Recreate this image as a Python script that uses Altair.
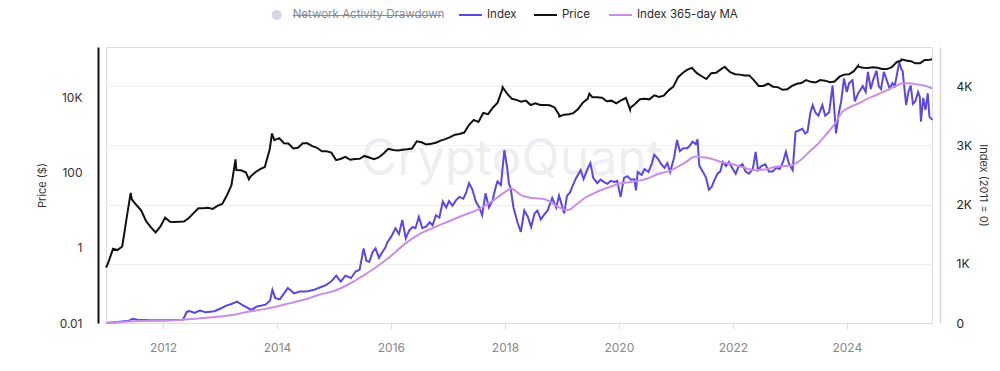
import altair as alt
import pandas as pd
import numpy as np

# ---------------- data ----------------
ND = "Network Activity Drawdown"
series_names = [ND, "Index", "Price", "Index 365-day MA"]
series_colors = ["#d6d6e0", "#5a48e2", "#111111", "#cc8ee4"]

# BTC price, mid-month, Jan 2011 .. Jun 2025
price_values = [
    0.4, 0.95, 0.88, 1.1, 7.0, 20, 14, 10, 5.2, 3.6, 2.6, 3.7,                      # 2011
    6.5, 5.0, 4.9, 5.0, 5.1, 6.3, 8.5, 11.5, 11.5, 11.8, 11.0, 13.3,                # 2012
    15, 26, 47, 120, 118, 105, 80, 105, 127, 145, 420, 750,                          # 2013
    850, 620, 610, 450, 470, 620, 620, 520, 470, 380, 380, 350,                      # 2014
    220, 240, 270, 225, 237, 240, 285, 260, 235, 260, 330, 440,                      # 2015
    410, 400, 415, 430, 450, 700, 660, 575, 605, 640, 730, 800,                      # 2016
    900, 1050, 1100, 1200, 1900, 2600, 2300, 4000, 3700, 5500, 7500, 17000,          # 2017
    13000, 9500, 8900, 8000, 8500, 6500, 7200, 6500, 6500, 6400, 5600, 3500,         # 2018
    3600, 3700, 3950, 5100, 7500, 9500, 10500, 10500, 10200, 8200, 8500, 7200,       # 2019
    8600, 10000, 5500, 7000, 9300, 9500, 9200, 11800, 10700, 11500, 16000, 20000,    # 2020
    36000, 47000, 57000, 62000, 46000, 38000, 32000, 46000, 47000, 58000, 64000, 49000,  # 2021
    43000, 42000, 40000, 40000, 30000, 21000, 21000, 24000, 20000, 19500, 16500, 17000,  # 2022
    21000, 24000, 25000, 30000, 27000, 26000, 30000, 29000, 26500, 27500, 37000, 42000,  # 2023
    43000, 52000, 68000, 64000, 63000, 66000, 64000, 59000, 59000, 66000, 90000, 100000, # 2024
    100000, 96000, 84000, 85000, 103000, 105000,                                         # 2025
]
price_extra_dates = ["2011-01-01", "2011-06-08", "2013-04-10", "2013-07-05", "2013-11-30",
                     "2017-12-17", "2018-12-15", "2019-06-26", "2020-03-13", "2021-04-14",
                     "2021-11-10", "2024-03-14", "2024-12-17", "2025-06-30"]
price_extra_values = [0.3, 29.6, 230, 68, 1130, 19500, 3200, 13000, 4900, 64000,
                      68000, 73000, 107000, 108000]

# Index (2011 = 0), decimal years
index_t = [
    2011.0, 2011.2, 2011.4, 2011.47, 2011.55, 2011.8, 2012.0, 2012.2, 2012.35, 2012.42,
    2012.47, 2012.55, 2012.65, 2012.75, 2012.9, 2013.0, 2013.1, 2013.2, 2013.3, 2013.4,
    2013.55, 2013.65, 2013.8, 2013.88, 2013.92, 2013.97, 2014.05, 2014.19, 2014.3, 2014.4,
    2014.51, 2014.65, 2014.75, 2014.86, 2014.95, 2015.04, 2015.12, 2015.2, 2015.3, 2015.38,
    2015.45, 2015.52, 2015.57, 2015.62, 2015.68, 2015.73, 2015.79, 2015.85, 2015.9, 2015.94,
    2016.0, 2016.08, 2016.14, 2016.2, 2016.26, 2016.32, 2016.38, 2016.43, 2016.49, 2016.55,
    2016.62, 2016.68, 2016.73, 2016.79, 2016.85, 2016.91, 2016.97, 2017.02, 2017.08, 2017.14,
    2017.2, 2017.27, 2017.32, 2017.37, 2017.43, 2017.49, 2017.55, 2017.6, 2017.66, 2017.72,
    2017.78, 2017.84, 2017.87, 2017.93, 2017.99, 2018.04, 2018.07, 2018.1, 2018.15, 2018.22,
    2018.28, 2018.34, 2018.4, 2018.46, 2018.52, 2018.57, 2018.63, 2018.69, 2018.75, 2018.83,
    2018.9, 2018.95, 2019.04, 2019.09, 2019.14, 2019.18, 2019.25, 2019.33, 2019.38, 2019.45,
    2019.5, 2019.55, 2019.62, 2019.68, 2019.74, 2019.8, 2019.86, 2019.92, 2019.97, 2020.03,
    2020.09, 2020.15, 2020.21, 2020.27, 2020.3, 2020.33, 2020.4, 2020.45, 2020.52, 2020.58,
    2020.62, 2020.68, 2020.73, 2020.8, 2020.85, 2020.9, 2020.97, 2021.02, 2021.07, 2021.13,
    2021.2, 2021.25, 2021.29, 2021.35, 2021.38, 2021.41, 2021.47, 2021.53, 2021.58, 2021.63,
    2021.67, 2021.73, 2021.78, 2021.82, 2021.88, 2021.93, 2022.0, 2022.05, 2022.1, 2022.17,
    2022.22, 2022.28, 2022.35, 2022.4, 2022.44, 2022.5, 2022.57, 2022.63, 2022.7, 2022.76,
    2022.82, 2022.88, 2022.93, 2022.98, 2023.05, 2023.1, 2023.16, 2023.22, 2023.27, 2023.31,
    2023.36, 2023.4, 2023.45, 2023.5, 2023.57, 2023.62, 2023.69, 2023.75, 2023.81, 2023.86,
    2023.9, 2023.95, 2024.0, 2024.04, 2024.1, 2024.14, 2024.2, 2024.28, 2024.33, 2024.37,
    2024.42, 2024.46, 2024.52, 2024.56, 2024.6, 2024.65, 2024.7, 2024.75, 2024.8, 2024.84,
    2024.88, 2024.92, 2024.95, 2024.98, 2025.04, 2025.08, 2025.12, 2025.16, 2025.2, 2025.25,
    2025.28, 2025.3, 2025.34, 2025.38, 2025.42, 2025.45, 2025.5,
]
index_v = [
    0, 15, 40, 70, 55, 45, 45, 50, 55, 190,
    200, 170, 210, 180, 200, 240, 290, 320, 360, 300,
    220, 280, 310, 380, 560, 420, 400, 590, 500, 530,
    530, 560, 600, 640, 700, 800, 700, 800, 760, 870,
    900, 1260, 1050, 1030, 1200, 1260, 1100, 1200, 1270, 1370,
    1450, 1600, 1500, 1740, 1430, 1560, 1620, 1600, 1790, 1600,
    1630, 1700, 1650, 1820, 1780, 2050, 1950, 2060, 1980, 2070,
    2130, 2100, 2200, 2360, 2250, 2050, 1950, 1820, 2190, 1950,
    2060, 2300, 2390, 2330, 2920, 2620, 2350, 2280, 1950, 1700,
    1540, 1900, 1800, 1620, 1850, 1900, 1750, 1830, 1900, 2110,
    1950, 2150, 1850, 2150, 2200, 2300, 2450, 2580, 2430, 2600,
    2700, 2450, 2360, 2420, 2380, 2350, 2400, 2380, 2400, 2130,
    2450, 2480, 2420, 2430, 2240, 2550, 2500, 2600, 2550, 2700,
    2840, 2780, 2700, 2620, 2700, 2550, 2800, 3090, 2900, 2950,
    2950, 3000, 3060, 3020, 3100, 2660, 2560, 2450, 2250, 2300,
    2400, 2520, 2560, 2720, 2650, 2720, 2600, 2520, 2640, 2680,
    2560, 2520, 2600, 2890, 2580, 2650, 2680, 2560, 2560, 2620,
    2600, 2720, 2890, 2700, 2580, 3230, 3250, 3280, 3200, 3230,
    3550, 3680, 3550, 3500, 3680, 3500, 3560, 4010, 3200, 3550,
    3740, 4130, 3900, 4050, 4100, 3740, 3880, 4000, 3900, 4240,
    3950, 4100, 4260, 4000, 3950, 4240, 4100, 3960, 4050, 4000,
    4200, 4410, 4300, 4250, 3680, 3900, 4010, 3700, 3740, 3900,
    3820, 3400, 3800, 3600, 3880, 3480, 3430,
]

# Index 365-day moving average
ma_t = [
    2011.0, 2011.5, 2012.0, 2012.3, 2012.6, 2013.0, 2013.25, 2013.5, 2013.75, 2014.0,
    2014.25, 2014.5, 2014.75, 2015.0, 2015.25, 2015.5, 2015.75, 2016.0, 2016.25, 2016.5,
    2016.75, 2017.0, 2017.25, 2017.5, 2017.75, 2018.0, 2018.1, 2018.3, 2018.5, 2018.7,
    2018.85, 2019.0, 2019.1, 2019.25, 2019.4, 2019.56, 2019.7, 2019.85, 2020.0, 2020.31,
    2020.5, 2020.7, 2020.85, 2021.0, 2021.14, 2021.35, 2021.45, 2021.55, 2021.7, 2021.78,
    2022.0, 2022.2, 2022.4, 2022.6, 2022.75, 2022.9, 2023.04, 2023.2, 2023.34, 2023.5,
    2023.63, 2023.8, 2023.92, 2024.05, 2024.21, 2024.35, 2024.52, 2024.7, 2024.84, 2024.96,
    2025.1, 2025.21, 2025.35, 2025.5,
]
ma_v = [
    0, 30, 40, 50, 75, 110, 140, 190, 230, 280,
    340, 400, 480, 540, 650, 790, 950, 1130, 1340, 1500,
    1610, 1710, 1810, 1900, 2040, 2210, 2270, 2150, 2110, 2090,
    2010, 1930, 1905, 2000, 2110, 2190, 2250, 2300, 2350, 2395,
    2440, 2520, 2555, 2620, 2695, 2810, 2800, 2790, 2750, 2720,
    2680, 2620, 2580, 2600, 2640, 2650, 2665, 2760, 2890, 3030,
    3175, 3380, 3565, 3640, 3710, 3780, 3850, 3930, 3990, 4045,
    4050, 4030, 4010, 3960,
]

# ---------------- frames ----------------
def to_date(t):
    return pd.Timestamp("2011-01-01") + pd.to_timedelta((np.array(t) - 2011.0) * 365.25, unit="D")

price_dates = pd.date_range("2011-01-01", periods=len(price_values), freq="MS") + pd.Timedelta(days=14)
price_df = pd.concat([
    pd.DataFrame({"date": price_dates, "value": price_values}),
    pd.DataFrame({"date": pd.to_datetime(price_extra_dates), "value": price_extra_values}),
]).sort_values("date")
price_df["series"] = "Price"

index_df = pd.DataFrame({"date": to_date(index_t), "value": index_v, "series": "Index"})
ma_df = pd.DataFrame({"date": to_date(ma_t), "value": ma_v, "series": "Index 365-day MA"})

# ---------------- encodings ----------------
FONT = "Inter"

color = alt.Color("series:N", scale=alt.Scale(domain=series_names, range=series_colors), legend=None)

x_enc = alt.X(
    "date:T",
    scale=alt.Scale(domain=[alt.DateTime(year=2011, month=1, date=1),
                            alt.DateTime(year=2025, month=6, date=30)], nice=False),
    axis=alt.Axis(
        values=[alt.DateTime(year=y, month=1, date=1) for y in range(2012, 2025, 2)],
        format="%Y", grid=False, title=None,
        domainColor="#dcdce4", domainWidth=1, tickColor="#dcdce4", tickSize=6,
        labelColor="#888888", labelFontSize=12, labelFont=FONT, labelPadding=13,
    ),
)

right_axis = alt.Axis(
    orient="right", values=[0, 1000, 2000, 3000, 4000],
    labelExpr="datum.value == 0 ? '0' : (datum.value / 1000) + 'K'",
    grid=True, gridColor="#efeff2", gridWidth=1, ticks=False,
    domainColor="#d8d8e2", domainWidth=1.5, offset=8, labelPadding=16,
    labelColor="#222222", labelFontSize=12, labelFont=FONT,
    title="Index (2011 = 0)", titleFontSize=11, titleFontWeight="normal",
    titleColor="#333333", titleFont=FONT, titlePadding=6,
)
left_axis = alt.Axis(
    orient="left", values=[0.01, 1, 100, 10000],
    labelExpr="datum.value >= 1000 ? (datum.value / 1000) + 'K' : (datum.value < 1 ? '0.01' : '' + datum.value)",
    grid=False, ticks=False, domainColor="#111111", domainWidth=2, offset=8, labelPadding=16,
    labelColor="#333333", labelFontSize=12, labelFont=FONT,
    title="Price ($)", titleFontSize=11, titleFontWeight="normal",
    titleColor="#333333", titleFont=FONT, titlePadding=12,
)

idx_scale = alt.Scale(domain=[0, 4660], nice=False, zero=True)

index_line = alt.Chart(index_df).mark_line(interpolate="linear").encode(
    x=x_enc, y=alt.Y("value:Q", scale=idx_scale, axis=right_axis), color=color)
ma_line = alt.Chart(ma_df).mark_line(interpolate="monotone").encode(
    x=x_enc, y=alt.Y("value:Q", scale=idx_scale, axis=right_axis), color=color)
price_line = alt.Chart(price_df).mark_line().encode(
    x=x_enc,
    y=alt.Y("value:Q", scale=alt.Scale(type="log", domain=[0.01, 229000], nice=False), axis=left_axis),
    color=color)

watermark = alt.Chart(pd.DataFrame({"t": ["CryptoQuant"]})).mark_text(
    font=FONT, fontSize=50, color="#ededf2", align="center", baseline="alphabetic"
).encode(x=alt.value(406), y=alt.value(128), text="t:N")

# ---------------- hand-built legend (top) ----------------
LEG_Y = -32
label_x = [186.7, 381, 456, 531]
legend_layers = []
one = pd.DataFrame({"k": [0]})
# disabled series: grey dot + struck-through grey label
legend_layers.append(alt.Chart(one).mark_point(filled=True, size=100, opacity=1, color=series_colors[0])
                     .encode(x=alt.value(170.7), y=alt.value(LEG_Y)))
for i, name in enumerate(series_names):
    txt_color = "#8a8a95" if i == 0 else "#2a2a2a"
    legend_layers.append(
        alt.Chart(pd.DataFrame({"t": [name]})).mark_text(
            font=FONT, fontSize=11.5, color=txt_color, align="left", baseline="middle")
        .encode(x=alt.value(label_x[i]), y=alt.value(LEG_Y), text="t:N"))
    if i > 0:
        legend_layers.append(
            alt.Chart(one).mark_rule(color=series_colors[i], strokeWidth=2)
            .encode(x=alt.value(label_x[i] - 28), x2=alt.value(label_x[i] - 5), y=alt.value(LEG_Y)))
legend_layers.append(
    alt.Chart(one).mark_rule(color="#8a8a95", strokeWidth=1)
    .encode(x=alt.value(label_x[0]), x2=alt.value(335.5), y=alt.value(LEG_Y + 0.5)))

chart = alt.layer(
    watermark,
    alt.layer(index_line, ma_line),
    price_line,
    *legend_layers,
).resolve_scale(y="independent").properties(
    width=826, height=276,
    autosize=alt.AutoSizeParams(type="none"),
    padding={"left": 98, "top": 39, "right": 60, "bottom": 34},
).configure_view(stroke=None).configure(font=FONT)

chart.save("out.html", embed_options={"renderer": "svg", "actions": False})
